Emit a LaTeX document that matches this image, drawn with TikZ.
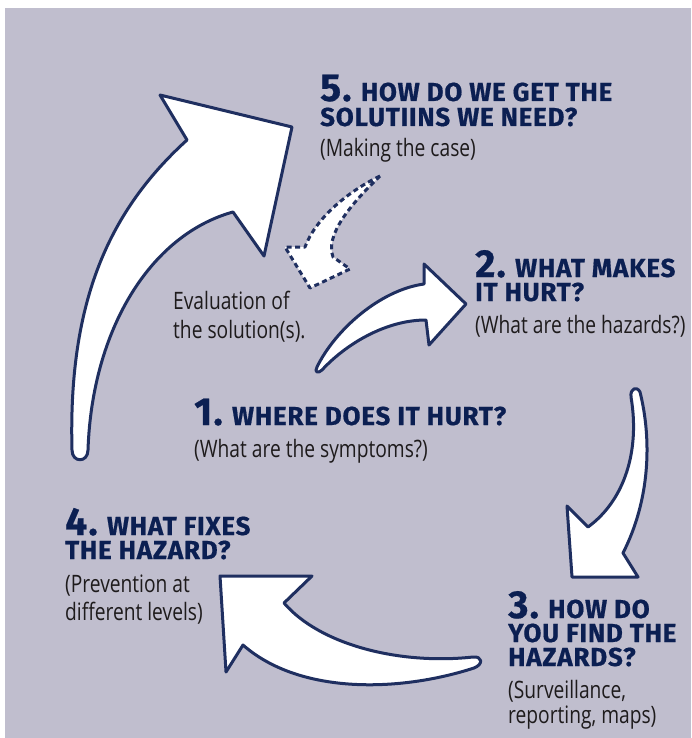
\documentclass[tikz,border=0pt]{standalone}
\usepackage{fontspec}
\newfontfamily\headfont[FakeStretch=1.0,LetterSpace=3,FakeBold=0.6]{Fira Sans}
\newfontfamily\subfont[FakeStretch=0.8]{Open Sans}
\definecolor{bgc}{HTML}{C0BECE}
\definecolor{navy}{HTML}{1F2F60}
\definecolor{headc}{HTML}{0B1F52}
\definecolor{subc}{HTML}{1E1B1C}
\newcommand\bignum[1]{{\fontsize{39}{39}\selectfont #1}}
\tikzset{
  arrowshape/.style={draw=navy, line width=3pt, fill=white, line join=round},
  dashshape/.style={draw=navy, line width=3pt, fill=white, line join=round, dash pattern=on 5pt off 3.5pt},
  hd/.style={anchor=base west, inner sep=0pt, text=headc, font=\headfont\bfseries\fontsize{26}{26}\selectfont},
  sub/.style={anchor=base west, inner sep=0pt, text=subc, font=\subfont\fontsize{24}{24}\selectfont}
}
\begin{document}
\begin{tikzpicture}[x=1pt,y=-1pt]
\useasboundingbox (0,0) rectangle (691,738);
\fill[white] (0,0) rectangle (691,738);
\fill[bgc] (5,8) rectangle (691,738);

% arrow 5 (big, left)
\draw[arrowshape] (72,450) .. controls (68,300) and (110,210) .. (187,140)
  -- (160,95) -- (292,127) -- (264,256) -- (233,212)
  .. controls (150,235) and (92,330) .. (88,450)
  .. controls (88,463) and (72,463) .. (72,450) -- cycle;

% arrow 2
\draw[arrowshape] (317,367) .. controls (335,330) and (380,290) .. (424,284)
  -- (424,264) -- (466,304) -- (429,345) -- (426,320)
  .. controls (385,320) and (345,345) .. (322,370)
  .. controls (318,374) and (314,372) .. (317,367) -- cycle;

% arrow 3
\draw[arrowshape] (640,392) .. controls (652,440) and (650,500) .. (623,553)
  -- (638,577) -- (572,577) -- (567,506) -- (588,527)
  .. controls (625,500) and (640,450) .. (631,397)
  .. controls (630,388) and (637,386) .. (640,392) -- cycle;

% arrow 4
\draw[arrowshape] (220,576) -- (312,576) -- (284,603)
  .. controls (320,645) and (400,665) .. (473,657)
  .. controls (482,656) and (484,664) .. (474,668)
  .. controls (400,692) and (300,695) .. (243,645)
  -- (226,672) -- cycle;

% dashed arrow
\draw[dashshape] (380,176) .. controls (345,193) and (315,220) .. (305,247)
  -- (285,247) -- (310,288) -- (350,269) -- (333,257)
  .. controls (325,235) and (350,205) .. (380,176) -- cycle;

% texts
\node[hd] (h5a) at (320,101) {\bignum{5.} HOW DO WE GET THE};
\node[hd] (h5b) at (320,126) {SOLUTIINS WE NEED?};
\node[sub] (s5) at (320,157) {(Making the case)};

\node[hd] (h2a) at (475,277) {\bignum{2.} WHAT MAKES};
\node[hd] (h2b) at (475,301) {IT HURT?};
\node[sub] (s2) at (475,333) {(What are the hazards?)};

\node[sub] (ev1) at (173,309) {Evaluation of};
\node[sub] (ev2) at (173,338) {the solution(s).};

\node[hd] (h1) at (194,425) {\bignum{1.} WHERE DOES IT HURT?};
\node[sub] (s1) at (194,457) {(What are the symptoms?)};

\node[hd] (h4a) at (65,535) {\bignum{4.} WHAT FIXES};
\node[hd] (h4b) at (65,559) {THE HAZARD?};
\node[sub] (s4a) at (65,592) {(Prevention at};
\node[sub] (s4b) at (65,620) {different levels)};

\node[hd] (h3a) at (508,618) {\bignum{3.} HOW DO};
\node[hd] (h3b) at (508,642) {YOU FIND THE};
\node[hd] (h3c) at (508,666) {HAZARDS?};
\node[sub] (s3a) at (508,698) {(Surveillance,};
\node[sub] (s3b) at (508,723) {reporting, maps)};
\end{tikzpicture}
\end{document}
